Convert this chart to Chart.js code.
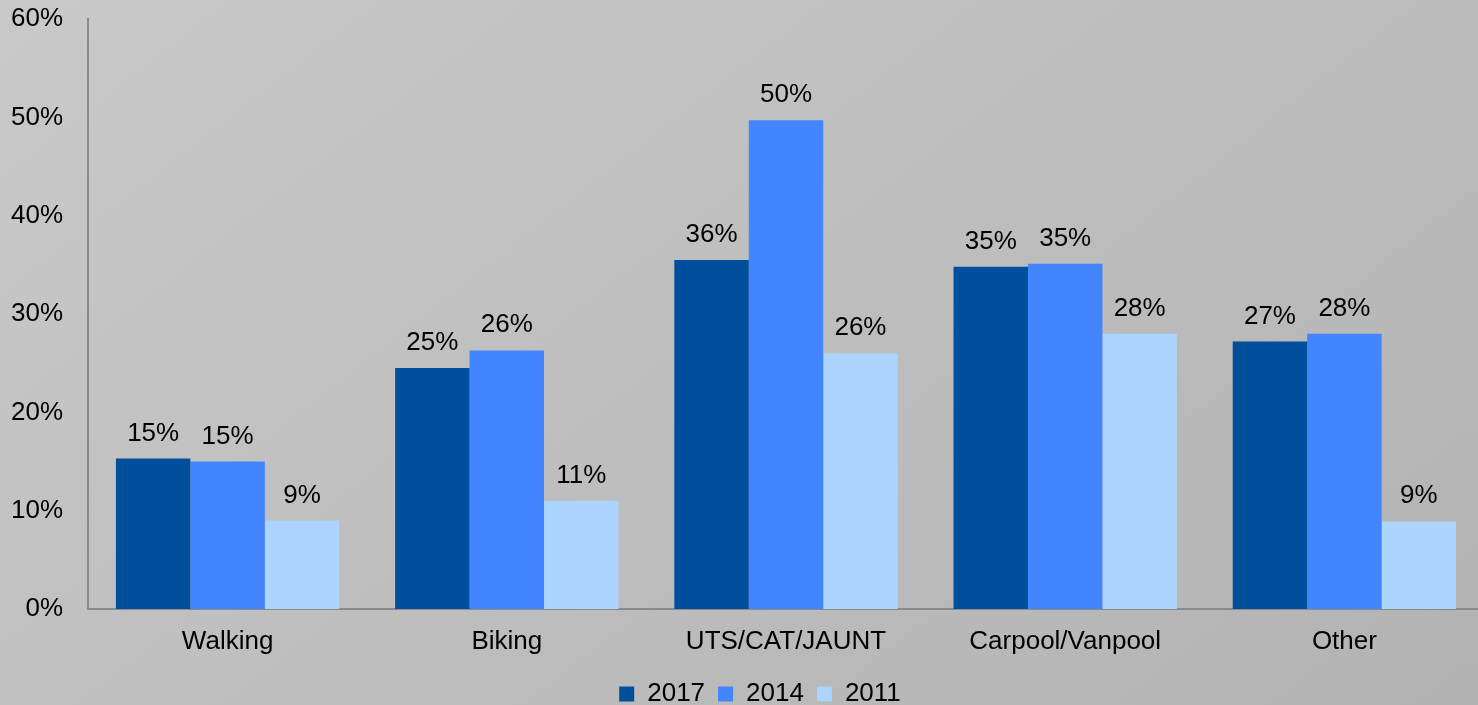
<!DOCTYPE html>
<html>
<head>
<meta charset="utf-8">
<script src="https://cdn.jsdelivr.net/npm/chart.js@4.4.1/dist/chart.umd.min.js"></script>
<style>
  html, body { margin: 0; padding: 0; overflow: hidden; }
  body { width: 1478px; height: 705px; background: linear-gradient(142deg, #c9c9c9, #b3b3b3); }
  #wrap { width: 1484px; height: 705px; position: relative; }
</style>
</head>
<body>
<div id="wrap"><canvas id="myChart"></canvas></div>
<script>
const categories = ["Walking", "Biking", "UTS/CAT/JAUNT", "Carpool/Vanpool", "Other"];
const values2017 = [15.3, 24.5, 35.5, 34.8, 27.2];
const values2014 = [15.0, 26.3, 49.7, 35.1, 28.0];
const values2011 = [9.0, 11.0, 26.0, 28.0, 8.9];
const yTicks = [0, 10, 20, 30, 40, 50, 60];

const FONT = "'Liberation Sans', Arial, sans-serif";

// labels above each bar
const barLabels = {
  id: "barLabels",
  afterDatasetsDraw(chart) {
    const ctx = chart.ctx;
    ctx.save();
    ctx.font = "26px " + FONT;
    ctx.fillStyle = "#000";
    ctx.textAlign = "center";
    ctx.textBaseline = "alphabetic";
    chart.data.datasets.forEach((ds, i) => {
      chart.getDatasetMeta(i).data.forEach((bar, j) => {
        ctx.fillText(Math.round(ds.data[j]) + "%", bar.x, bar.y - 18);
      });
    });
    ctx.restore();
  },
};

// nudge the legend to where the original sits
const legendShift = {
  id: "legendShift",
  afterLayout(chart) {
    const lg = chart.legend;
    lg.left += 13; lg.right += 13;
    lg.top += 2; lg.bottom += 2;
  },
};

const chart = document.getElementById("myChart");

const data01 = {
  labels: categories,
  datasets: [
    { label: "2017", data: values2017, backgroundColor: "#004f9c" },
    { label: "2014", data: values2014, backgroundColor: "#4285ff" },
    { label: "2011", data: values2011, backgroundColor: "#abd4ff" },
  ],
};

const config01 = {
  type: "bar",
  data: data01,
  options: {
    responsive: true,
    maintainAspectRatio: false,
    animation: false,
    datasets: { bar: { categoryPercentage: 0.8, barPercentage: 1.0 } },
    layout: { padding: { top: 19, left: 10, right: 0, bottom: -10 } },
    scales: {
      x: {
        grid: { display: false, drawTicks: false },
        border: { display: true, color: "#8a8a8a", width: 2 },
        ticks: { color: "#000", font: { family: FONT, size: 26 }, padding: 17, maxRotation: 0 },
        afterFit(axis) {
          axis.height = 57;
          axis.paddingLeft = 0;
          axis.paddingRight = 0;
        },
      },
      y: {
        min: 0,
        max: 60,
        afterBuildTicks(axis) { axis.ticks = yTicks.map(v => ({ value: v })); },
        grid: { display: false, drawTicks: false },
        border: { display: true, color: "#8a8a8a", width: 2 },
        ticks: { color: "#000", font: { family: FONT, size: 26 }, padding: 25, callback: v => v + "%" },
        afterFit(axis) {
          axis.width = 78;
          axis.paddingTop = 0;
          axis.paddingBottom = 0;
        },
      },
    },
    plugins: {
      tooltip: { enabled: false },
      legend: {
        display: true,
        position: "bottom",
        labels: {
          color: "#000",
          font: { family: FONT, size: 26 },
          boxWidth: 15,
          boxHeight: 15,
          padding: 13,
        },
      },
    },
  },
  plugins: [barLabels, legendShift],
};

const chart01 = new Chart(chart, config01);
</script>
</body>
</html>
